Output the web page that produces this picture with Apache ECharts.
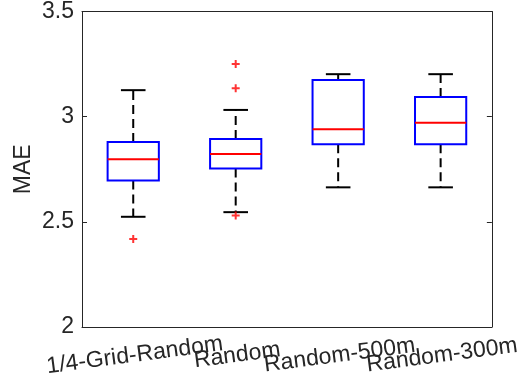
<!DOCTYPE html>
<html>
<head>
<meta charset="utf-8">
<script src="https://cdn.jsdelivr.net/npm/echarts@6/dist/echarts.min.js"></script>
<style>html,body{margin:0;padding:0;background:#fff}#c{width:522px;height:381px}</style>
</head>
<body>
<div id="c"></div>
<script>
var categories = ['1/4-Grid-Random', 'Random', 'Random-500m', 'Random-300m'];
var lowerWhisker = [2.524, 2.546, 2.664, 2.664];
var q1 = [2.697, 2.753, 2.869, 2.869];
var median = [2.797, 2.822, 2.940, 2.971];
var q3 = [2.879, 2.894, 3.174, 3.093];
var upperWhisker = [3.126, 3.032, 3.202, 3.202];
var outlierCat = [0, 1, 1, 1];
var outlierVal = [2.418, 3.250, 3.135, 2.530];
var yTicks = [2, 2.5, 3, 3.5];

var boxData = categories.map(function (c, i) {
  return [i, lowerWhisker[i], q1[i], median[i], q3[i], upperWhisker[i]];
});
var outData = outlierCat.map(function (c, i) { return [c, outlierVal[i]]; });

var FONT = '"Liberation Sans", Arial, Helvetica, sans-serif';
var AX = '#262626';

var chart = echarts.init(document.getElementById('c'), null, {renderer: 'canvas'});

function renderBox(params, api) {
  var x = api.value(0);
  var band = api.size([1, 0])[0];
  var hw = band * 0.25;
  var cw = band * 0.12;
  var pLo = api.coord([x, api.value(1)]);
  var pQ1 = api.coord([x, api.value(2)]);
  var pMed = api.coord([x, api.value(3)]);
  var pQ3 = api.coord([x, api.value(4)]);
  var pHi = api.coord([x, api.value(5)]);
  var cx = pMed[0];
  var dash = {stroke: '#000', lineWidth: 2, lineDash: [9, 5]};
  var solid = {stroke: '#000', lineWidth: 2};
  return {
    type: 'group',
    children: [
      {type: 'line', shape: {x1: cx, y1: pQ3[1], x2: cx, y2: pHi[1]}, style: dash},
      {type: 'line', shape: {x1: cx, y1: pQ1[1], x2: cx, y2: pLo[1]}, style: dash},
      {type: 'line', shape: {x1: cx - cw, y1: pHi[1], x2: cx + cw, y2: pHi[1]}, style: solid},
      {type: 'line', shape: {x1: cx - cw, y1: pLo[1], x2: cx + cw, y2: pLo[1]}, style: solid},
      {type: 'rect', shape: {x: cx - hw, y: pQ3[1], width: hw * 2, height: pQ1[1] - pQ3[1]},
        style: {fill: 'none', stroke: '#0000FF', lineWidth: 2}},
      {type: 'line', shape: {x1: cx - hw, y1: pMed[1], x2: cx + hw, y2: pMed[1]},
        style: {stroke: '#FF0000', lineWidth: 2}}
    ]
  };
}

var option = {
  animation: false,
  backgroundColor: '#fff',
  grid: {left: 82, right: 30, top: 7, bottom: 54, containLabel: false},
  xAxis: [{
    type: 'category',
    data: categories,
    boundaryGap: true,
    axisLine: {lineStyle: {color: AX, width: 1}},
    axisTick: {alignWithLabel: true, inside: true, length: 5, lineStyle: {color: AX}},
    axisLabel: {rotate: 7.5, align: 'center', verticalAlign: 'top', margin: 17, interval: 0,
      color: AX, fontSize: 23, fontFamily: FONT},
    splitLine: {show: false}
  }, {
    type: 'category',
    data: categories,
    position: 'top',
    boundaryGap: true,
    axisLine: {show: true, onZero: false, lineStyle: {color: AX, width: 1}},
    axisTick: {alignWithLabel: true, inside: true, length: 5, lineStyle: {color: AX}},
    axisLabel: {show: false},
    splitLine: {show: false}
  }],
  yAxis: [{
    type: 'value',
    min: 2, max: 3.5, interval: 0.5,
    name: 'MAE',
    nameLocation: 'middle',
    nameGap: 47,
    nameMoveOverlap: false,
    nameTextStyle: {color: AX, fontSize: 23, fontFamily: FONT},
    axisLine: {show: true, lineStyle: {color: AX, width: 1}},
    axisTick: {show: true, inside: true, length: 5, lineStyle: {color: AX}},
    axisLabel: {color: AX, fontSize: 23, fontFamily: FONT, margin: 8,
      formatter: function (v) { return yTicks.indexOf(v) >= 0 ? String(v) : ''; }},
    splitLine: {show: false}
  }, {
    type: 'value',
    min: 2, max: 3.5, interval: 0.5,
    position: 'right',
    axisLine: {show: true, onZero: false, lineStyle: {color: AX, width: 1}},
    axisTick: {show: true, inside: true, length: 5, lineStyle: {color: AX}},
    axisLabel: {show: false},
    splitLine: {show: false}
  }],
  series: [{
    type: 'custom',
    xAxisIndex: 0, yAxisIndex: 0,
    renderItem: renderBox,
    data: boxData,
    encode: {x: 0, y: [1, 2, 3, 4, 5]},
    z: 2
  }, {
    type: 'scatter',
    xAxisIndex: 0, yAxisIndex: 0,
    data: outData,
    symbol: 'path://M3,0 H5 V3 H8 V5 H5 V8 H3 V5 H0 V3 H3 Z',
    symbolSize: 8,
    itemStyle: {color: '#FF0000'},
    z: 3
  }]
};
chart.setOption(option);
</script>
</body>
</html>
